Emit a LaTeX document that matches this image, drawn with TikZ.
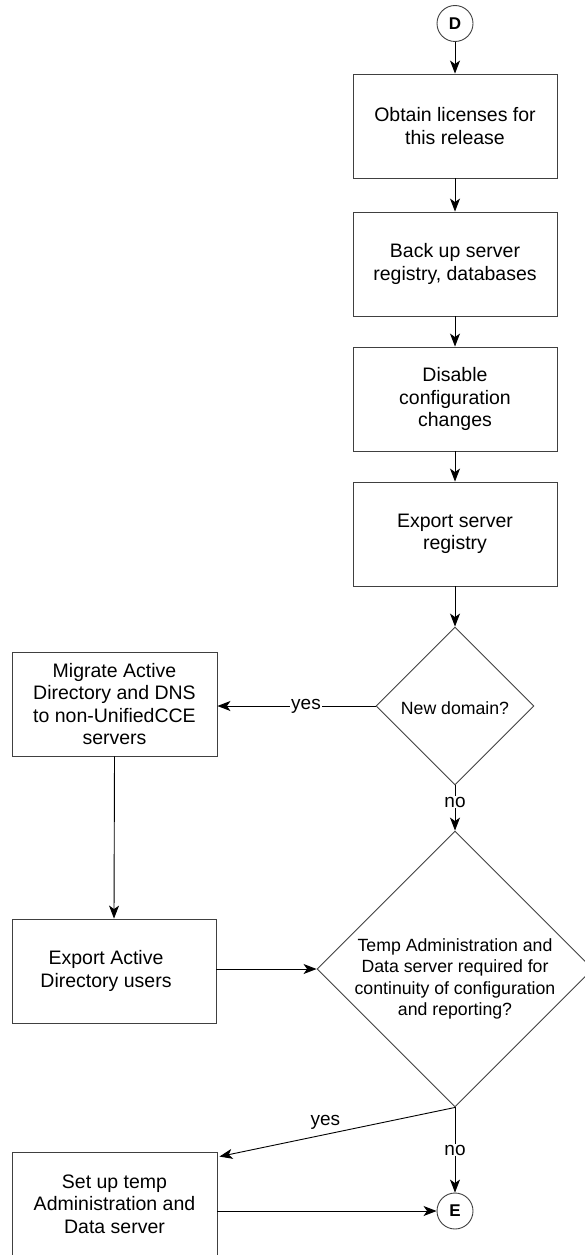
\documentclass[tikz,border=0pt]{standalone}
\usepackage{fontspec}
\setmainfont{Liberation Sans}
\usetikzlibrary{shapes.geometric,arrows.meta,calc}
\begin{document}
\begin{tikzpicture}[x=1pt,y=-1pt,
  line width=0.9pt,
  box/.style={draw=black!75, rectangle, minimum width=204pt, minimum height=104pt, inner sep=0pt,
    align=center, font=\fontsize{19.5}{22.5}\selectfont},
  dia/.style={draw=black!75, diamond, inner sep=0pt},
  diatext/.style={align=center, font=\fontsize{17.7}{21.5}\selectfont},
  conn/.style={draw=black!75, circle, minimum size=36pt, inner sep=0pt, font=\fontsize{17}{17}\selectfont\bfseries},
  arr/.style={-{Stealth[length=13pt,width=10pt,inset=3.5pt]}, draw=black},
  lab/.style={font=\fontsize{19}{19}\selectfont, fill=white, inner sep=1pt}
]
\useasboundingbox (0,0) rectangle (584,1255);

\node[conn] (D) at (455,23.5) {D};
\node[box] (b1) at (455,126) {Obtain licenses for\\this release};
\node[box] (b2) at (455,264) {Back up server\\registry, databases};
\node[box] (b3) at (455,399) {Disable\\configuration\\changes};
\node[box] (b4) at (455,534) {Export server\\registry};
\node[dia, minimum width=158pt, minimum height=158pt] (d1) at (455,706) {};
\node[diatext] (d1t) at (455,708) {New domain?};
\node[box, minimum width=205pt] (m) at (114.5,704) {Migrate Active\\Directory and DNS\\to non-UnifiedCCE\\servers};
\node[box] (a) at (114,971) {\hspace*{-16pt}Export Active\\\hspace*{-16pt}Directory users};
\node[dia, minimum width=276pt, minimum height=276pt] (d2) at (455,969) {};
\node[diatext] (d2t) at (455,979) {Temp Administration and\\Data server required for\\continuity of configuration\\and reporting?};
\node[box, minimum width=205pt] (s) at (114.5,1204) {Set up temp\\Administration and\\Data server};
\node[conn] (E) at (455,1211) {E};

\draw[arr] (D) -- (b1);
\draw[arr] (b1) -- (b2);
\draw[arr] (b2) -- (b3);
\draw[arr] (b3) -- (b4);
\draw[arr] (b4) -- (d1.north);
\draw[arr] (d1.west) -- node[lab, pos=0.44] {yes} (m.east |- d1.west);
\draw[arr] (d1.south) -- node[lab, pos=0.37] {no} (d2.north);
\draw[arr] (m.south) -- (a.north);
\draw[arr] (a.east |- d2.west) -- (d2.west);
\draw[arr] (d2.south) -- node[lab, fill=none, pos=0.55, above=4pt] {yes} ($(s.north east)+(2,5)$);
\draw[arr] (d2.south) -- node[lab] {no} (E.north);
\draw[arr] (s.east |- E) -- (E.west);
\end{tikzpicture}
\end{document}
